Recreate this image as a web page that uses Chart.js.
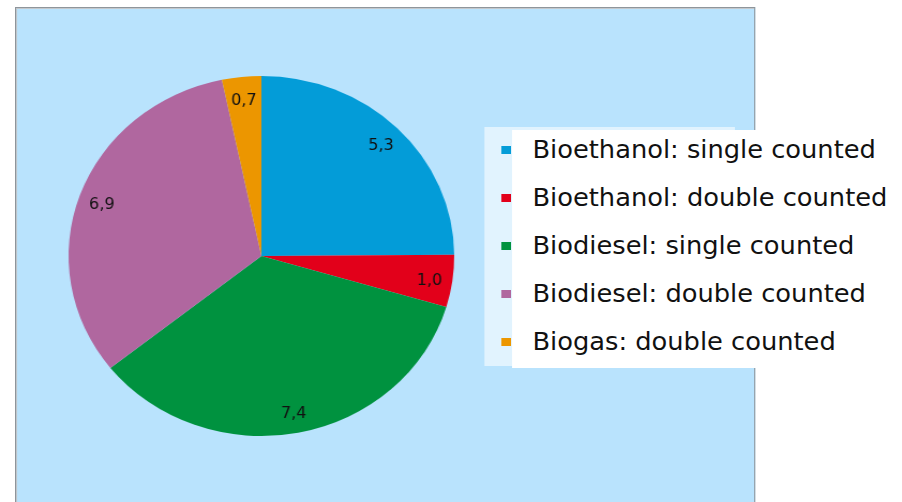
<!DOCTYPE html>
<html>
<head>
<meta charset="utf-8">
<script src="https://cdn.jsdelivr.net/npm/chart.js@4.4.1/dist/chart.umd.min.js"></script>
<style>
    body { margin: 0; background: #ffffff; overflow: hidden; }
    #wrap {
        position: absolute; left: 0; top: 0;
        width: 842px; height: 502px;
        transform: scaleX(1.0713); transform-origin: 0 0;
        font-family: "DejaVu Sans", Verdana, sans-serif;
    }
    #frame {
        position: absolute; left: 14px; top: 7px;
        width: 689px; height: 510px;
        background: #b9e3fd;
        border: 1px solid #8e959b;
        box-shadow: inset 1px 1px 0 #c4c8cc;
    }
    #pie { position: absolute; left: 0; top: 0; }
    #legendBack {
        position: absolute; left: 452px; top: 127px;
        width: 234px; height: 239px;
        background: #e1f3fe;
    }
    #legend {
        position: absolute; left: 478px; top: 130px;
        width: 356px; height: 238px;
        background: #ffffff;
    }
    #legend ul { list-style: none; margin: 0; padding: 0; }
    #legend li {
        position: absolute; left: 19px;
        font-size: 24px; color: #111; white-space: nowrap;
        line-height: 28px;
    }
    #legend li span.box {
        position: absolute; left: -29px; top: 10px;
        width: 9px; height: 8px;
    }
</style>
</head>
<body>
<div id="wrap">
    <div id="frame"></div>
    <canvas id="pie" width="842" height="502"></canvas>
    <div id="legendBack"></div>
    <div id="legend"></div>
</div>
<script>
// Chart data
const categories = [
    'Bioethanol: single counted',
    'Bioethanol: double counted',
    'Biodiesel: single counted',
    'Biodiesel: double counted',
    'Biogas: double counted'
];
const values = [5.3, 1.0, 7.4, 6.9, 0.7];
const sliceColors = ['#039cd8', '#e2001a', '#00923f', '#b0679f', '#ec9600'];

// Data labels drawn inside each slice, decimal comma like the original
const sliceLabels = {
    id: 'sliceLabels',
    afterDatasetsDraw(chart) {
        const ctx = chart.ctx;
        const meta = chart.getDatasetMeta(0);
        ctx.save();
        ctx.font = '15px "DejaVu Sans", Verdana, sans-serif';
        ctx.fillStyle = '#111111';
        ctx.textAlign = 'center';
        ctx.textBaseline = 'middle';
        meta.data.forEach(function(arc, i) {
            const p = arc.getProps(['x', 'y', 'startAngle', 'endAngle', 'outerRadius'], true);
            const mid = (p.startAngle + p.endAngle) / 2;
            const r = p.outerRadius * 0.88;
            const text = values[i].toFixed(1).replace('.', ',');
            ctx.fillText(text, p.x + Math.cos(mid) * r, p.y + Math.sin(mid) * r + 3);
        });
        ctx.restore();
    }
};

const pieChart = new Chart(document.getElementById('pie').getContext('2d'), {
    type: 'pie',
    data: {
        labels: categories,
        datasets: [{
            data: values,
            backgroundColor: sliceColors,
            borderWidth: 0
        }]
    },
    options: {
        responsive: false,
        animation: false,
        layout: { padding: { left: 64, top: 76, right: 418, bottom: 66 } },
        plugins: {
            legend: { display: false },
            tooltip: { enabled: false }
        }
    },
    plugins: [sliceLabels]
});

// Legend built from the chart's own labels
const legendEl = document.getElementById('legend');
const ul = document.createElement('ul');
pieChart.options.plugins.legend.labels.generateLabels(pieChart).forEach(function(item, i) {
    const li = document.createElement('li');
    li.style.top = (6 + i * 48) + 'px';
    const box = document.createElement('span');
    box.className = 'box';
    box.style.background = item.fillStyle;
    li.appendChild(box);
    li.appendChild(document.createTextNode(item.text));
    ul.appendChild(li);
});
legendEl.appendChild(ul);
</script>
</body>
</html>
